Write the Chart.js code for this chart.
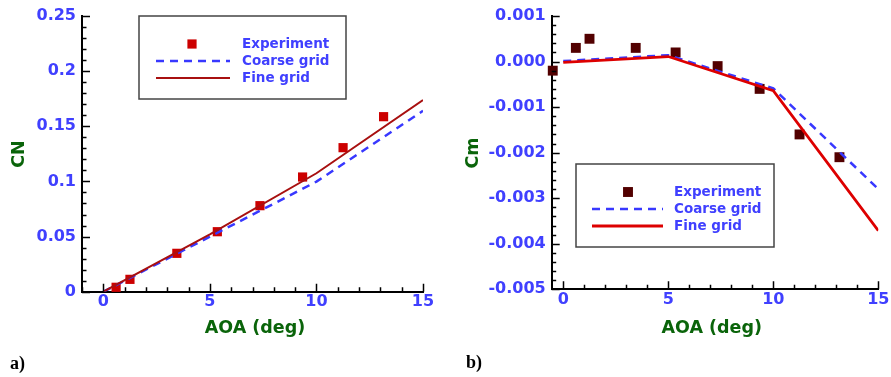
<!DOCTYPE html>
<html>
<head>
<meta charset="utf-8">
<script src="https://cdn.jsdelivr.net/npm/chart.js@4.4.1/dist/chart.umd.min.js"></script>
<style>
html, body { margin: 0; padding: 0; background: #fff; }
#wrap { position: relative; width: 891px; height: 377px; }
.panel { position: absolute; top: 0; height: 377px; }
</style>
</head>
<body>
<div id="wrap">
  <div class="panel" style="left:0;width:445px"><canvas id="cnChart" width="445" height="377"></canvas></div>
  <div class="panel" style="left:445px;width:446px"><canvas id="cmChart" width="446" height="377"></canvas></div>
</div>
<script>
// measured angles of attack (deg)
const expAoa = [0.6, 1.25, 3.45, 5.35, 7.35, 9.35, 11.25, 13.15];
const expCn = [0.004, 0.0112, 0.0348, 0.0544, 0.078, 0.104, 0.1306, 0.1587];
// Cm has one more point at negative AOA
const expAoaCm = [-0.5, 0.6, 1.25, 3.45, 5.35, 7.35, 9.35, 11.25, 13.15];
const expCm = [-0.0002, 0.0003, 0.0005, 0.0003, 0.0002, -0.0001, -0.0006, -0.0016, -0.0021];

// CFD results
const cfdAoa = [0, 5, 10, 15];
const coarseCn = [0, 0.0499, 0.0998, 0.164];
const fineCn = [0, 0.052, 0.1074, 0.1738];
const coarseCm = [0.00001, 0.00014, -0.00059, -0.0028];
const fineCm = [-0.00002, 0.00011, -0.00064, -0.00371];

// tick labels
const aoaTicks = [0, 5, 10, 15];
const cnTicks = [0, 0.05, 0.1, 0.15, 0.2, 0.25];
const cmTicks = [0.001, 0, -0.001, -0.002, -0.003, -0.004, -0.005];

const blue = '#4040ff';
const green = '#0a640a';
const coarseBlue = '#3838ff';

function pts(xs, ys) {
    return xs.map((x, i) => ({ x: x, y: ys[i] }));
}

// inward pointing major / minor ticks, axis titles, legend box and panel tag
const decor = {
    id: 'decor',
    afterDraw(chart, args, o) {
        const ctx = chart.ctx;
        const area = chart.chartArea;
        const sx = chart.scales.x, sy = chart.scales.y;
        ctx.save();
        ctx.strokeStyle = '#000';
        ctx.lineWidth = 1.5;
        ctx.beginPath();
        let i0 = Math.ceil(sx.min / o.xMinor - 1e-9);
        for (let i = i0; i * o.xMinor <= sx.max + 1e-9; i++) {
            let v = i * o.xMinor;
            let major = Math.abs(v / o.xMajor - Math.round(v / o.xMajor)) < 1e-6;
            let px = Math.round(sx.getPixelForValue(v)) + 0.5;
            ctx.moveTo(px, area.bottom);
            ctx.lineTo(px, area.bottom - (major ? 8 : 4.5));
        }
        i0 = Math.ceil(sy.min / o.yMinor - 1e-9);
        for (let i = i0; i * o.yMinor <= sy.max + 1e-12; i++) {
            let v = i * o.yMinor;
            let major = Math.abs(v / o.yMajor - Math.round(v / o.yMajor)) < 1e-6;
            let py = Math.round(sy.getPixelForValue(v)) + 0.5;
            ctx.moveTo(area.left, py);
            ctx.lineTo(area.left + (major ? 8 : 4.5), py);
        }
        ctx.stroke();

        // axis titles
        ctx.fillStyle = green;
        ctx.font = 'bold 17.5px "DejaVu Sans"';
        ctx.textAlign = 'center';
        ctx.textBaseline = 'middle';
        ctx.fillText(o.xTitle, o.xTitlePos[0], o.xTitlePos[1]);
        ctx.save();
        ctx.translate(o.yTitlePos[0], o.yTitlePos[1]);
        ctx.rotate(-Math.PI / 2);
        ctx.fillText(o.yTitle, 0, 0);
        ctx.restore();

        // legend
        const lg = o.legend;
        ctx.strokeStyle = '#444';
        ctx.lineWidth = 1.5;
        ctx.strokeRect(lg.box[0], lg.box[1], lg.box[2] - lg.box[0], lg.box[3] - lg.box[1]);
        ctx.font = 'bold 13.5px "DejaVu Sans"';
        ctx.textAlign = 'left';
        chart.data.datasets.forEach((ds, k) => {
            const ry = lg.rows[k];
            if (ds.showLine) {
                ctx.strokeStyle = ds.borderColor;
                ctx.lineWidth = ds.borderWidth;
                ctx.setLineDash(ds.borderDash || []);
                ctx.beginPath();
                ctx.moveTo(lg.line[0], ry);
                ctx.lineTo(lg.line[1], ry);
                ctx.stroke();
                ctx.setLineDash([]);
            } else {
                const s = ds.pointRadius * Math.SQRT1_2;
                ctx.fillStyle = ds.backgroundColor;
                ctx.fillRect(lg.marker - s, ry - s, 2 * s, 2 * s);
            }
            ctx.fillStyle = blue;
            ctx.fillText(ds.label, lg.textX, ry);
        });

        ctx.fillStyle = '#000';
        ctx.font = 'bold 18px "Liberation Serif"';
        ctx.textBaseline = 'alphabetic';
        ctx.fillText(o.tag, o.tagPos[0], o.tagPos[1]);
        ctx.restore();
    }
};

function axisCommon() {
    return {
        type: 'linear',
        grid: { display: true, drawOnChartArea: false, drawTicks: false },
        border: { display: true, color: '#000', width: 2 },
        ticks: {
            color: blue,
            font: { family: 'DejaVu Sans', size: 16, weight: 'bold' },
            autoSkip: false,
            maxRotation: 0
        }
    };
}

function makeChart(id, cfg) {
    const x = axisCommon();
    x.min = cfg.xMin;
    x.max = 15;
    x.ticks.padding = 1;
    x.afterBuildTicks = s => { s.ticks = aoaTicks.map(v => ({ value: v })); };
    x.afterFit = s => { s.height = cfg.xHeight; };

    const y = axisCommon();
    y.min = cfg.yMin;
    y.max = cfg.yMax;
    y.ticks.padding = 6;
    y.ticks.callback = cfg.yFormat;
    y.afterBuildTicks = s => { s.ticks = cfg.yTicks.map(v => ({ value: v })); };
    y.afterFit = s => { s.width = cfg.yWidth; };

    return new Chart(document.getElementById(id).getContext('2d'), {
        type: 'scatter',
        data: {
            datasets: [{
                label: 'Experiment',
                data: cfg.exp,
                pointStyle: 'rect',
                pointRadius: cfg.markerR,
                pointBorderWidth: 0,
                backgroundColor: cfg.expColor,
                borderColor: cfg.expColor,
                showLine: false,
                clip: false,
                order: 3
            }, {
                label: 'Coarse grid',
                data: cfg.coarse,
                showLine: true,
                borderColor: coarseBlue,
                borderWidth: 2.5,
                borderDash: [8, 6],
                pointRadius: 0,
                fill: false,
                order: 2
            }, {
                label: 'Fine grid',
                data: cfg.fine,
                showLine: true,
                borderColor: cfg.fineColor,
                borderWidth: cfg.fineWidth,
                pointRadius: 0,
                fill: false,
                order: 1
            }]
        },
        options: {
            responsive: false,
            animation: false,
            events: [],
            layout: { padding: cfg.padding },
            plugins: {
                legend: { display: false },
                tooltip: { enabled: false },
                decor: cfg.decor
            },
            scales: { x: x, y: y }
        },
        plugins: [decor]
    });
}

makeChart('cnChart', {
    xMin: -1,
    yMin: 0, yMax: 0.25,
    yTicks: cnTicks,
    yFormat: v => String(v),
    xHeight: 85.3, yWidth: 82,
    padding: { left: 0, top: 16, right: 22, bottom: 0 },
    exp: pts(expAoa, expCn),
    coarse: pts(cfdAoa, coarseCn),
    fine: pts(cfdAoa, fineCn),
    expColor: '#cc0000',
    fineColor: '#a81010',
    fineWidth: 2,
    markerR: 6.5,
    decor: {
        xMinor: 1, xMajor: 5, yMinor: 0.01, yMajor: 0.05,
        xTitle: 'AOA (deg)', xTitlePos: [255, 328],
        yTitle: 'CN', yTitlePos: [19, 154],
        legend: { box: [139, 16, 346, 99], rows: [44, 61, 78], marker: 192, line: [156, 230], textX: 242 },
        tag: 'a)', tagPos: [10, 369]
    }
});

makeChart('cmChart', {
    xMin: -0.55,
    yMin: -0.005, yMax: 0.001,
    yTicks: cmTicks,
    yFormat: v => v.toFixed(3),
    xHeight: 87.7, yWidth: 106.7,
    padding: { left: 0, top: 16, right: 12.7, bottom: 0 },
    exp: pts(expAoaCm, expCm),
    coarse: pts(cfdAoa, coarseCm),
    fine: pts(cfdAoa, fineCm),
    expColor: '#520000',
    fineColor: '#dd0000',
    fineWidth: 2.8,
    markerR: 7,
    decor: {
        xMinor: 1, xMajor: 5, yMinor: 0.0002, yMajor: 0.001,
        xTitle: 'AOA (deg)', xTitlePos: [266.7, 328],
        yTitle: 'Cm', yTitlePos: [28.3, 153],
        legend: { box: [131, 164, 329, 247], rows: [192, 209, 226], marker: 183, line: [147, 218], textX: 229 },
        tag: 'b)', tagPos: [21, 368]
    }
});
</script>
</body>
</html>
